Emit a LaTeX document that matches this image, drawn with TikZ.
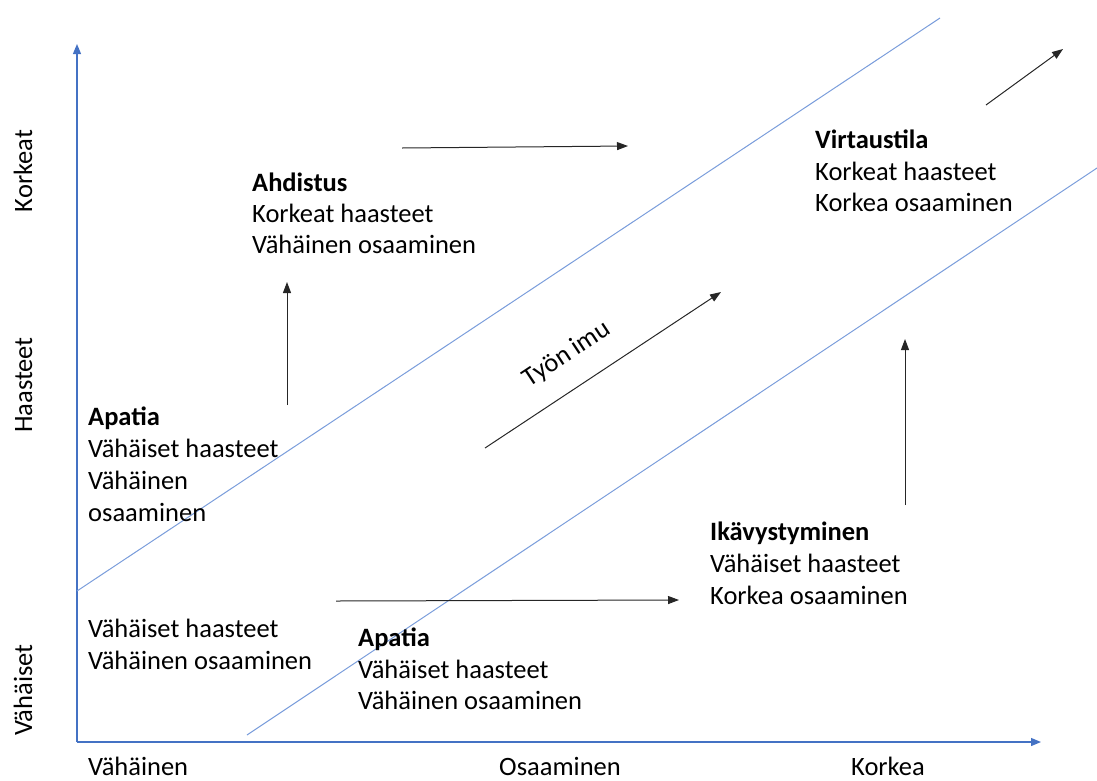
\documentclass[tikz,border=0pt]{standalone}
\usepackage{fontspec}
\setmainfont{Carlito}
\usetikzlibrary{arrows.meta}
\definecolor{axisblue}{HTML}{4472C4}
\definecolor{diagblue}{HTML}{7A9DDB}
\definecolor{arrowgray}{HTML}{262626}
\tikzset{
  txt/.style={anchor=base west, inner sep=0pt, font=\fontsize{26.5}{32}\selectfont},
  ttl/.style={txt, font=\fontsize{26.5}{32}\selectfont\bfseries},
  axlbl/.style={anchor=base, inner sep=0pt, font=\fontsize{26.5}{32}\selectfont},
  axisline/.style={axisblue, line width=1.2pt, -{Triangle[length=10pt,width=8pt]}},
  diagline/.style={diagblue, line width=1pt},
  flow/.style={arrowgray, line width=1pt, -{Triangle[length=11pt,width=8pt]}}
}
\begin{document}
\begin{tikzpicture}[x=1pt,y=-1pt]
\useasboundingbox (0,0) rectangle (1097,780);
% axes
\coordinate (O) at (77,742);
\coordinate (ytip) at (77,44);
\coordinate (xtip) at (1041,742);
\draw[axisline] (O) -- (ytip);
\draw[axisline] (O) -- (xtip);
% diagonals
\coordinate (d1a) at (77,591);
\coordinate (d1b) at (940,18);
\coordinate (d2a) at (247,735);
\coordinate (d2b) at (1097,168);
\draw[diagline] (d1a) -- (d1b);
\draw[diagline] (d2a) -- (d2b);
% flow arrows
\coordinate (a1s) at (402,148); \coordinate (a1e) at (628,146);
\coordinate (a2s) at (287,405); \coordinate (a2e) at (287,282);
\coordinate (a3s) at (485,448); \coordinate (a3e) at (721,292);
\coordinate (a4s) at (336,601); \coordinate (a4e) at (679,600);
\coordinate (a5s) at (905,505); \coordinate (a5e) at (905,339);
\coordinate (a6s) at (986,105); \coordinate (a6e) at (1063,49);
\draw[flow] (a1s) -- (a1e);
\draw[flow] (a2s) -- (a2e);
\draw[flow] (a3s) -- (a3e);
\draw[flow] (a4s) -- (a4e);
\draw[flow] (a5s) -- (a5e);
\draw[flow] (a6s) -- (a6e);
\node[anchor=base, inner sep=0pt, font=\fontsize{26.5}{32}\selectfont, rotate=33.4] (imu) at (571,360) {Työn imu};
% Virtaustila
\node[ttl] (v1) at (815,148) {Virtaustila};
\node[txt] (v2) at (815,180) {Korkeat haasteet};
\node[txt] (v3) at (815,211) {Korkea osaaminen};
% Ahdistus
\node[ttl] (h1) at (252,191) {Ahdistus};
\node[txt] (h2) at (252,222) {Korkeat haasteet};
\node[txt] (h3) at (252,253) {Vähäinen osaaminen};
% Apatia upper
\node[ttl] (p1) at (88,425) {Apatia};
\node[txt] (p2) at (88,457) {Vähäiset haasteet};
\node[txt] (p3) at (88,489) {Vähäinen};
\node[txt] (p4) at (88,521) {osaaminen};
% Ikävystyminen
\node[ttl] (k1) at (710,540) {Ikävystyminen};
\node[txt] (k2) at (710,572) {Vähäiset haasteet};
\node[txt] (k3) at (710,604) {Korkea osaaminen};
% lower left
\node[txt] (l1) at (88,637) {Vähäiset haasteet};
\node[txt] (l2) at (88,669) {Vähäinen osaaminen};
% Apatia lower
\node[ttl] (q1) at (358,646) {Apatia};
\node[txt] (q2) at (358,678) {Vähäiset haasteet};
\node[txt] (q3) at (358,709) {Vähäinen osaaminen};
% axis labels
\node[txt] (xl1) at (88,775) {Vähäinen};
\node[axlbl] (xl2) at (560,775) {Osaaminen};
\node[axlbl] (xl3) at (888,775) {Korkea};
\node[axlbl, rotate=90] (yl1) at (32,171) {Korkeat};
\node[axlbl, rotate=90] (yl2) at (32,385) {Haasteet};
\node[axlbl, rotate=90] (yl3) at (32,690) {Vähäiset};
\end{tikzpicture}
\end{document}
